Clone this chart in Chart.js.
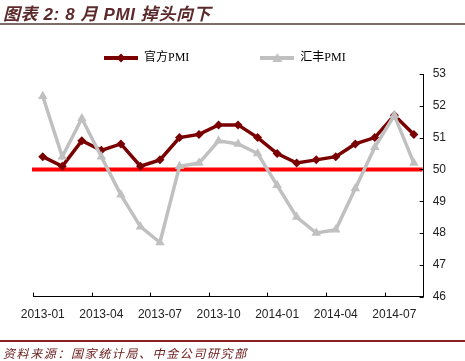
<!DOCTYPE html>
<html>
<head>
<meta charset="utf-8">
<script src="https://cdn.jsdelivr.net/npm/chart.js@4/dist/chart.umd.min.js"></script>
<style>
  html, body { margin: 0; padding: 0; background: #fff; }
  #wrap { position: relative; width: 465px; height: 361px; overflow: hidden; }
  #title { position: absolute; left: 3px; top: 0px; font: italic bold 17px "Liberation Sans", "Noto Sans CJK SC", sans-serif; letter-spacing: 0.6px; color: #5c2a2a; white-space: nowrap; }
  #titleLine { position: absolute; left: 0; top: 23px; width: 465px; height: 2px; background: #7e6e6a; }
  #footLine { position: absolute; left: 0; top: 340px; width: 465px; height: 2px; background: #8b2020; }
  #foot { position: absolute; left: 3px; top: 344px; font: italic 12px "Noto Sans CJK SC", sans-serif; letter-spacing: 1.6px; color: #6e2020; white-space: nowrap; }
  #c { position: absolute; left: 0; top: 0; }
</style>
</head>
<body>
<div id="wrap">
  <canvas id="c" width="465" height="361"></canvas>
  <div id="title">图表 2: 8 月 PMI 掉头向下</div>
  <div id="titleLine"></div>
  <div id="footLine"></div>
  <div id="foot">资料来源：国家统计局、中金公司研究部</div>
</div>
<script>
const months = ["2013-01","2013-02","2013-03","2013-04","2013-05","2013-06","2013-07","2013-08","2013-09","2013-10","2013-11","2013-12",
                "2014-01","2014-02","2014-03","2014-04","2014-05","2014-06","2014-07","2014-08"];
const officialPMI = [50.4,50.1,50.9,50.6,50.8,50.1,50.3,51.0,51.1,51.4,51.4,51.0,50.5,50.2,50.3,50.4,50.8,51.0,51.7,51.1];
const hsbcPMI     = [52.3,50.4,51.6,50.4,49.2,48.2,47.7,50.1,50.2,50.9,50.8,50.5,49.5,48.5,48.0,48.1,49.4,50.7,51.7,50.2];
const seriesNames = ["官方PMI", "汇丰PMI"];
const yMin = 46, yMax = 53, yStep = 1;
const refLevel = 50;
const labelEvery = 3;

const colOfficial = "#7a0000";
const colHsbc = "#c0c0c0";

function swatch(color, style) {
  const cv = document.createElement("canvas");
  cv.width = 34; cv.height = 12;
  const g = cv.getContext("2d");
  g.strokeStyle = color; g.lineWidth = 4;
  g.beginPath(); g.moveTo(0, 6); g.lineTo(34, 6); g.stroke();
  g.fillStyle = color;
  g.beginPath();
  if (style === "diamond") {
    g.moveTo(17, 1.5); g.lineTo(21.5, 6); g.lineTo(17, 10.5); g.lineTo(12.5, 6);
  } else {
    g.moveTo(17, 1); g.lineTo(22, 10); g.lineTo(12, 10);
  }
  g.closePath(); g.fill();
  return cv;
}

const refLinePlugin = {
  id: "refLine",
  beforeDatasetsDraw(chart) {
    const { ctx, chartArea, scales } = chart;
    const y = scales.y.getPixelForValue(refLevel);
    ctx.save();
    ctx.strokeStyle = "#ff0000";
    ctx.lineWidth = 4;
    ctx.beginPath();
    ctx.moveTo(chartArea.left - 1, y);
    ctx.lineTo(chartArea.right - 1, y);
    ctx.stroke();
    ctx.restore();
  }
};

const tickMarkPlugin = {
  id: "tickMarks",
  afterDraw(chart) {
    const { ctx, chartArea, scales } = chart;
    const xs = scales.x, ys = scales.y;
    const half = (xs.getPixelForValue(1) - xs.getPixelForValue(0)) / 2;
    ctx.save();
    ctx.strokeStyle = "#000";
    ctx.lineWidth = 1;
    ctx.beginPath();
    for (let i = 0; i < months.length; i += labelEvery) {
      const x = Math.round(xs.getPixelForValue(i) - half) + 0.5;
      ctx.moveTo(x, chartArea.bottom);
      ctx.lineTo(x, chartArea.bottom - 4);
    }
    for (let v = yMin; v <= yMax; v += yStep) {
      const y = Math.round(ys.getPixelForValue(v)) + 0.5;
      ctx.moveTo(chartArea.right, y);
      ctx.lineTo(chartArea.right - 4, y);
    }
    ctx.stroke();
    ctx.restore();
  }
};

const swatches = [swatch(colOfficial, "diamond"), swatch(colHsbc, "triangle")];

new Chart(document.getElementById("c"), {
  type: "line",
  data: {
    labels: months,
    datasets: [
      {
        label: seriesNames[0], data: officialPMI, order: 1,
        borderColor: colOfficial, backgroundColor: colOfficial, borderWidth: 3.5,
        pointStyle: "rectRot", pointRadius: 4.5, pointBorderWidth: 0,
        pointBackgroundColor: colOfficial, tension: 0
      },
      {
        label: seriesNames[1], data: hsbcPMI, order: 0,
        borderColor: colHsbc, backgroundColor: colHsbc, borderWidth: 3.5,
        pointStyle: "triangle", pointRadius: 5.5, pointBorderWidth: 0,
        pointBackgroundColor: colHsbc, tension: 0
      }
    ]
  },
  options: {
    responsive: false,
    animation: false,
    layout: { padding: { left: 33, right: 10, top: -19, bottom: 28 } },
    plugins: {
      tooltip: { enabled: false },
      legend: {
        position: "top",
        align: "start",
        labels: {
          usePointStyle: true,
          pointStyleWidth: 34,
          boxHeight: 12,
          padding: 71,
          color: "#333",
          font: { family: "'Liberation Serif', 'Noto Sans CJK SC', serif", size: 12 },
          generateLabels(chart) {
            return seriesNames.map((name, i) => ({
              text: name, pointStyle: swatches[i], datasetIndex: i,
              fillStyle: "transparent", strokeStyle: "transparent", lineWidth: 0, hidden: false
            }));
          }
        }
      }
    },
    scales: {
      x: {
        type: "category",
        offset: true,
        grid: { display: false, drawTicks: false },
        border: { display: true, color: "#000", width: 1 },
        ticks: {
          autoSkip: false, maxRotation: 0, padding: 11, color: "#222",
          font: { family: "'Liberation Sans', Arial, sans-serif", size: 12 },
          callback(value, index) { return index % labelEvery === 0 ? months[index] : ""; }
        }
      },
      y: {
        position: "right",
        min: yMin, max: yMax,
        grid: { display: false, drawTicks: false },
        border: { display: true, color: "#000", width: 1 },
        ticks: {
          stepSize: yStep, padding: 9, color: "#222",
          font: { family: "'Liberation Sans', Arial, sans-serif", size: 12 }
        }
      }
    }
  },
  plugins: [refLinePlugin, tickMarkPlugin]
});
</script>
</body>
</html>
